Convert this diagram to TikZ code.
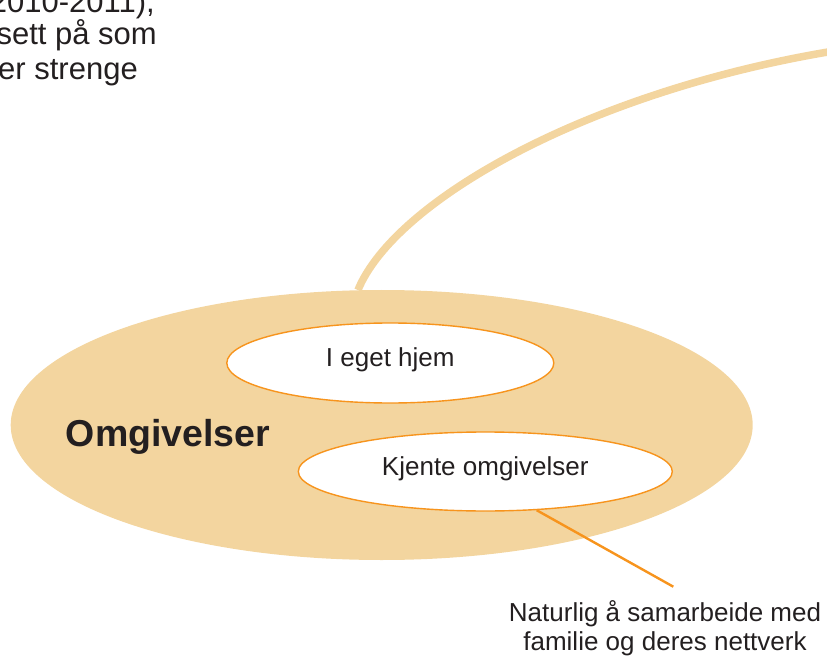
\documentclass[tikz,border=0pt]{standalone}
\usepackage{fontspec}
\setmainfont{Liberation Sans}
\usetikzlibrary{shapes.geometric}

\definecolor{sand}{RGB}{243,213,159}
\definecolor{accent}{RGB}{247,148,29}
\definecolor{ink}{RGB}{35,31,32}

\tikzset{
  field/.style={ellipse, fill=sand, inner sep=0pt},
  place/.style={ellipse, draw=accent, line width=1.4pt, fill=white, inner sep=0pt,
    font=\fontsize{26}{28}\selectfont, text=ink, text height=0.716em, text depth=0pt},
  stem/.style={draw=sand, line width=7.5pt},
  leader/.style={draw=accent, line width=2.4pt},
  body/.style={inner sep=0pt, text=ink, font=\fontsize{31}{34}\selectfont},
}

\begin{document}
\begin{tikzpicture}[x=1pt, y=-1pt]
  \useasboundingbox (0,0) rectangle (827,660);
  \clip (0,0) rectangle (827,660);

  % paragraph fragment at the top left
  \node[body, anchor=base east] (p1) at (155,13) {(2010-2011),};
  \node[body, anchor=base east] (p2) at (157,45) {sett på som};
  \node[body, anchor=base east] (p3) at (138,80) {er strenge};

  % the surroundings and the two places inside them
  \node[field, minimum width=742pt, minimum height=270pt] (env) at (381.7,425) {};
  \coordinate (tail) at (840,50);
  \draw[stem] (env.100) .. controls (395,200) and (590,90) .. (tail);

  \node[place, minimum width=327pt, minimum height=80pt] (home) at (390.3,363) {I eget hjem};
  \node[place, minimum width=374pt, minimum height=79pt] (known) at (485.3,471.5) {Kjente omgivelser};

  \node[inner sep=0pt, anchor=base west, text=ink, font=\fontsize{37.5}{40}\selectfont\bfseries]
    (title) at (65.7,446.7) {Omgivelser};

  % comment attached to the second place
  \coordinate (tip) at (673.3,586.7);
  \draw[leader] (known.-37.5) -- (tip);
  \node[inner sep=0pt, anchor=base, align=center, text=ink, font=\fontsize{26}{28.3}\selectfont]
    (note) at (665,650) {Naturlig å samarbeide med\\familie og deres nettverk};
\end{tikzpicture}
\end{document}
